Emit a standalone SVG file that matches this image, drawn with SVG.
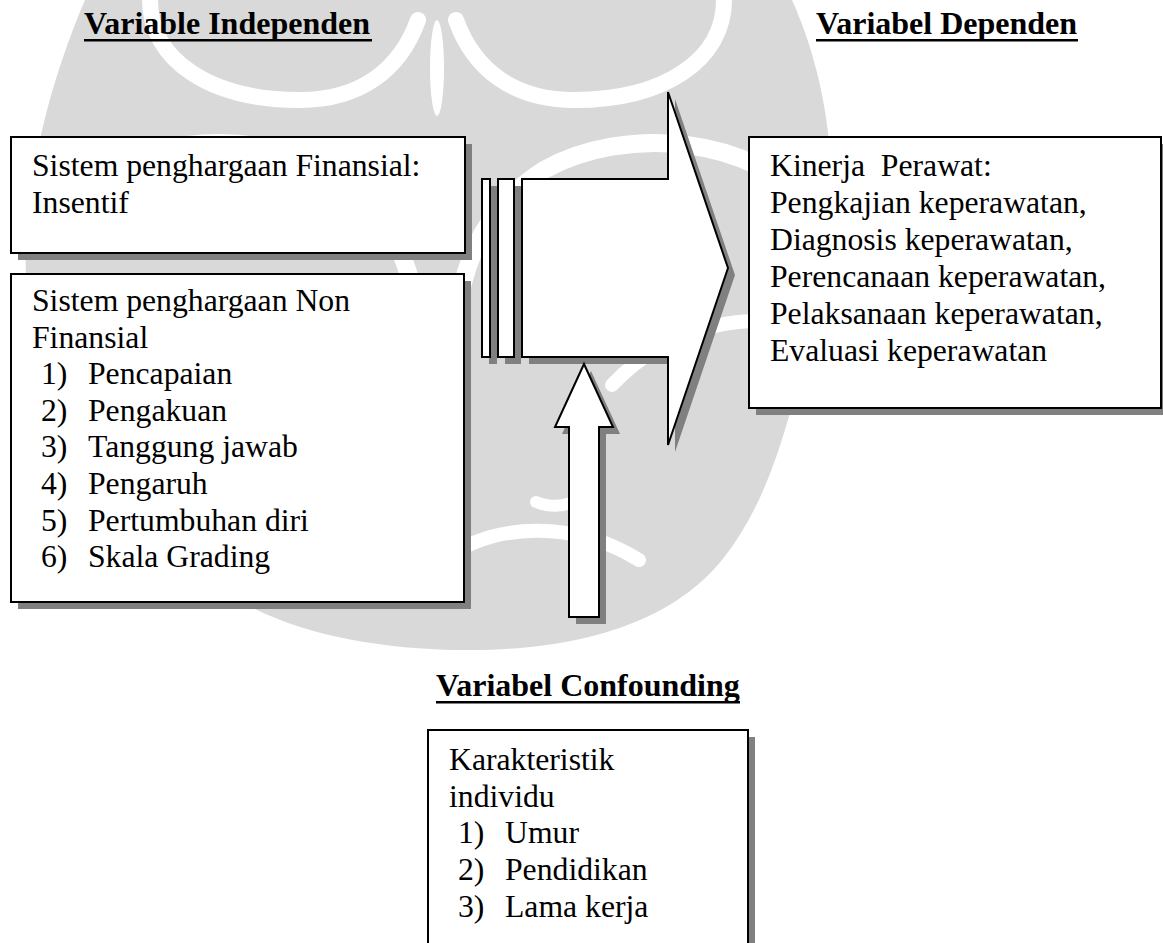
<svg xmlns="http://www.w3.org/2000/svg" width="1163" height="943" viewBox="0 0 1163 943">
  <style>
    .t { font-family: "Liberation Serif", Tinos, "Times New Roman", "DejaVu Serif", serif; font-size: 31.7px; fill: #000; }
    .h { font-family: "Liberation Serif", Tinos, "Times New Roman", "DejaVu Serif", serif; font-size: 32px; font-weight: bold; fill: #000; }
    .box { fill: #fff; stroke: #000; stroke-width: 2; }
    .shadow { fill: #808080; stroke: none; }
    .shape { fill: #fff; stroke: #000; stroke-width: 2; stroke-linejoin: miter; }
    .wm { fill: #d9d9d9; }
    .swirl { fill: none; stroke: #fff; stroke-linecap: round; }
  </style>
  <defs>
    <g id="swirl-half">
      <path class="swirl" stroke-width="16" d="M150,0 C150,60 210,100 300,100 C360,100 400,70 418,20"/>
      <path class="swirl" stroke-width="18" d="M60,210 C120,135 250,125 330,170 C385,205 410,255 418,320"/>
      <path class="swirl" stroke-width="14" d="M45,335 C120,305 205,325 262,385"/>
      <path class="swirl" stroke-width="14" d="M235,560 C300,520 380,522 430,560"/>
      <path class="swirl" stroke-width="12" d="M300,420 C258,458 285,522 338,502"/>
    </g>
  </defs>

  <rect width="1163" height="943" fill="#fff"/>

  <!-- background emblem -->
  <g id="emblem">
    <path class="wm" d="M85,0 L792,0 C828,80 850,200 810,330 C790,420 770,500 722,560 C680,612 600,650 470,650 C350,650 250,622 200,570 C130,500 62,420 32,330 C12,230 42,100 85,0 Z"/>
    <use href="#swirl-half"/>
    <use href="#swirl-half" transform="translate(874,0) scale(-1,1)"/>
    <ellipse cx="437" cy="68" rx="7" ry="48" fill="#fff"/>
  </g>

  <!-- headings -->
  <g id="heading-independen">
    <text class="h" x="84" y="34">Variable Independen</text>
    <rect x="84" y="39" width="288" height="2.5" fill="#000"/>
  </g>
  <g id="heading-dependen">
    <text class="h" x="816" y="34">Variabel Dependen</text>
    <rect x="816" y="39" width="262" height="2.5" fill="#000"/>
  </g>
  <g id="heading-confounding">
    <text class="h" x="436" y="696">Variabel Confounding</text>
    <rect x="436" y="701" width="304" height="2.5" fill="#000"/>
  </g>

  <!-- connectors: block arrows -->
  <g id="connectors">
    <g id="arrow-right">
      <rect class="shadow" x="489" y="186" width="8" height="178"/>
      <rect class="shadow" x="505" y="186" width="16" height="178"/>
      <polygon class="shadow" points="529,186 675,186 675,99 735,275 675,452 675,364 529,364"/>
      <rect class="shape" x="482" y="179" width="8" height="178"/>
      <rect class="shape" x="498" y="179" width="16" height="178"/>
      <polygon class="shape" points="522,179 668,179 668,92 728,268 668,445 668,357 522,357"/>
    </g>
    <g id="arrow-up">
      <polygon class="shadow" points="591,371 620,434 606,434 606,624 576,624 576,434 562,434"/>
      <polygon class="shape" points="584,364 613,427 599,427 599,617 569,617 569,427 555,427"/>
    </g>
  </g>

  <!-- nodes -->
  <g id="node-finansial">
    <rect class="shadow" x="18" y="144" width="454" height="116"/>
    <rect class="box" x="11" y="137" width="454" height="116"/>
    <text class="t" x="32" y="176">Sistem penghargaan Finansial:</text>
    <text class="t" x="32" y="213">Insentif</text>
  </g>

  <g id="node-non-finansial">
    <rect class="shadow" x="18" y="281" width="453" height="328"/>
    <rect class="box" x="11" y="274" width="453" height="328"/>
    <text class="t" x="32" y="311">Sistem penghargaan Non</text>
    <text class="t" x="32" y="348">Finansial</text>
    <text class="t" x="41" y="384">1)</text><text class="t" x="88" y="384">Pencapaian</text>
    <text class="t" x="41" y="421">2)</text><text class="t" x="88" y="421">Pengakuan</text>
    <text class="t" x="41" y="457">3)</text><text class="t" x="88" y="457">Tanggung jawab</text>
    <text class="t" x="41" y="494">4)</text><text class="t" x="88" y="494">Pengaruh</text>
    <text class="t" x="41" y="531">5)</text><text class="t" x="88" y="531">Pertumbuhan diri</text>
    <text class="t" x="41" y="567">6)</text><text class="t" x="88" y="567">Skala Grading</text>
  </g>

  <g id="node-kinerja">
    <rect class="shadow" x="756" y="144" width="412" height="271"/>
    <rect class="box" x="749" y="137" width="412" height="271"/>
    <text class="t" x="770" y="176" xml:space="preserve">Kinerja  Perawat:</text>
    <text class="t" x="770" y="213">Pengkajian keperawatan,</text>
    <text class="t" x="770" y="250">Diagnosis keperawatan,</text>
    <text class="t" x="770" y="287">Perencanaan keperawatan,</text>
    <text class="t" x="770" y="324">Pelaksanaan keperawatan,</text>
    <text class="t" x="770" y="361">Evaluasi keperawatan</text>
  </g>

  <g id="node-karakteristik">
    <rect class="shadow" x="435" y="737" width="320" height="240"/>
    <rect class="box" x="428" y="730" width="320" height="240"/>
    <text class="t" x="449" y="770">Karakteristik</text>
    <text class="t" x="449" y="807">individu</text>
    <text class="t" x="458" y="843">1)</text><text class="t" x="505" y="843">Umur</text>
    <text class="t" x="458" y="880">2)</text><text class="t" x="505" y="880">Pendidikan</text>
    <text class="t" x="458" y="917">3)</text><text class="t" x="505" y="917">Lama kerja</text>
  </g>
</svg>
